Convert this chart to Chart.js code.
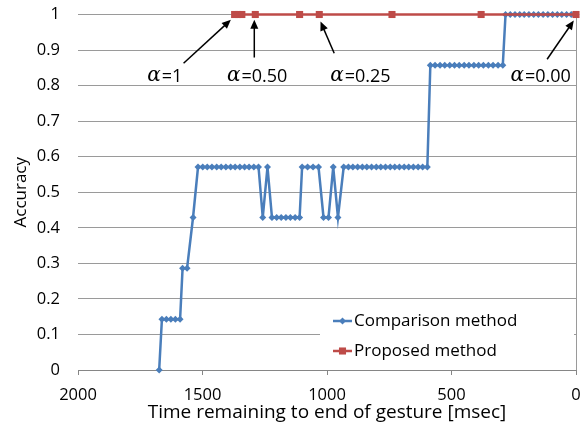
<!DOCTYPE html>
<html>
<head>
<meta charset="utf-8">
<script src="https://cdn.jsdelivr.net/npm/chart.js@4.4.0/dist/chart.umd.min.js"></script>
<style>
  html, body { margin: 0; padding: 0; background: #fff; }
</style>
</head>
<body>
<canvas id="myChart" width="582" height="423"></canvas>
<script>
// time remaining [msec] and accuracy
const compTime = [1674,
  1663, 1645, 1627, 1609, 1590,
  1580, 1562,
  1538,
  1518, 1499, 1481, 1462, 1443, 1425, 1406, 1387, 1369, 1350, 1331, 1313, 1294, 1275,
  1258,
  1239,
  1221, 1202, 1184, 1165, 1147, 1128, 1110,
  1100, 1078, 1056, 1034,
  1014, 994,
  975,
  956,
  933, 914, 896, 877, 858, 840, 821, 802, 784, 765, 746, 728, 709, 690, 672, 653, 634, 616, 597,
  585, 566, 546, 527, 507, 488, 469, 449, 430, 410, 391, 372, 352, 333, 313, 294,
  283, 264, 245, 226, 208, 189, 170, 151, 132, 113, 94, 75, 57, 38, 19, 0];
const compAcc = [0,
  0.143, 0.143, 0.143, 0.143, 0.143,
  0.286, 0.286,
  0.429,
  0.571, 0.571, 0.571, 0.571, 0.571, 0.571, 0.571, 0.571, 0.571, 0.571, 0.571, 0.571, 0.571, 0.571,
  0.429,
  0.571,
  0.429, 0.429, 0.429, 0.429, 0.429, 0.429, 0.429,
  0.571, 0.571, 0.571, 0.571,
  0.429, 0.429,
  0.571,
  0.429,
  0.571, 0.571, 0.571, 0.571, 0.571, 0.571, 0.571, 0.571, 0.571, 0.571, 0.571, 0.571, 0.571, 0.571, 0.571, 0.571, 0.571, 0.571, 0.571,
  0.857, 0.857, 0.857, 0.857, 0.857, 0.857, 0.857, 0.857, 0.857, 0.857, 0.857, 0.857, 0.857, 0.857, 0.857, 0.857,
  1, 1, 1, 1, 1, 1, 1, 1, 1, 1, 1, 1, 1, 1, 1, 1];
const propTime = [1371, 1357, 1342, 1288, 1110, 1031, 739, 381, 0];
const propAcc = [1, 1, 1, 1, 1, 1, 1, 1, 1];

const seriesNames = ['Comparison method', 'Proposed method'];
const alphaText = ['1', '0.50', '0.25', '0.00'];

// arrows: tip / tail / label anchor in data units (ms, accuracy)
const notes = [
  { tip: [1386, 0.985], tail: [1576, 0.863], at: [1722, 0.824] },
  { tip: [1292, 0.985], tail: [1292, 0.879], at: [1402, 0.824] },
  { tip: [1026, 0.980], tail: [971, 0.891], at: [987, 0.824] },
  { tip: [9, 0.983], tail: [116, 0.874], at: [263, 0.824] }
];

const BLUE = '#4a7ebb';
const RED = '#be4b48';
const GRID = '#9a9a9a';
const FONT = '"Open Sans", sans-serif';

Chart.defaults.font.family = FONT;
Chart.defaults.color = '#000';

const arrowPlugin = {
  id: 'arrows',
  afterDatasetsDraw(chart) {
    const { ctx, scales: { x, y } } = chart;
    ctx.save();
    notes.forEach((n, i) => {
      const x1 = x.getPixelForValue(n.tail[0]), y1 = y.getPixelForValue(n.tail[1]);
      const x2 = x.getPixelForValue(n.tip[0]), y2 = y.getPixelForValue(n.tip[1]);
      const ang = Math.atan2(y2 - y1, x2 - x1);
      ctx.strokeStyle = '#000';
      ctx.fillStyle = '#000';
      ctx.lineWidth = 1.5;
      ctx.beginPath();
      ctx.moveTo(x1, y1);
      ctx.lineTo(x2 - 6 * Math.cos(ang), y2 - 6 * Math.sin(ang));
      ctx.stroke();
      ctx.beginPath();
      ctx.moveTo(x2, y2);
      ctx.lineTo(x2 - 9 * Math.cos(ang) + 4 * Math.sin(ang), y2 - 9 * Math.sin(ang) - 4 * Math.cos(ang));
      ctx.lineTo(x2 - 9 * Math.cos(ang) - 4 * Math.sin(ang), y2 - 9 * Math.sin(ang) + 4 * Math.cos(ang));
      ctx.closePath();
      ctx.fill();

      // label
      let lx = x.getPixelForValue(n.at[0]);
      const ly = y.getPixelForValue(n.at[1]);
      ctx.textBaseline = 'middle';
      ctx.textAlign = 'left';
      ctx.font = 'italic 20px "DejaVu Serif"';
      ctx.fillText('α', lx, ly - 1);
      lx += ctx.measureText('α').width + 1;
      ctx.font = '18px ' + FONT;
      ctx.fillText('=' + alphaText[i], lx, ly);
    });
    ctx.restore();
  }
};

const legendPlugin = {
  id: 'boxLegend',
  afterDraw(chart) {
    const { ctx, chartArea } = chart;
    const left = chartArea.left + 242, right = chartArea.right - 2;
    const top = chartArea.bottom - 64, bottom = chartArea.bottom - 3;
    ctx.save();
    ctx.fillStyle = '#fff';
    ctx.fillRect(left, top, right - left, bottom - top);
    const rows = [
      { name: seriesNames[0], color: BLUE, style: 'rectRot', r: 3.5, y: top + 15 },
      { name: seriesNames[1], color: RED, style: 'rect', r: 5, y: top + 45 }
    ];
    rows.forEach(row => {
      const sx = left + 13;
      ctx.strokeStyle = row.color;
      ctx.lineWidth = 2.5;
      ctx.beginPath();
      ctx.moveTo(sx, row.y);
      ctx.lineTo(sx + 19, row.y);
      ctx.stroke();
      ctx.fillStyle = row.color;
      Chart.helpers.drawPoint(ctx, { pointStyle: row.style, radius: row.r, borderWidth: 0 }, sx + 9.5, row.y);
      ctx.fillStyle = '#000';
      ctx.font = '17px ' + FONT;
      ctx.textBaseline = 'middle';
      ctx.textAlign = 'left';
      ctx.fillText(row.name, sx + 21, row.y);
    });
    ctx.restore();
  }
};

new Chart(document.getElementById('myChart'), {
  type: 'scatter',
  data: {
    datasets: [{
      label: seriesNames[1],
      data: propTime.map((t, i) => ({ x: t, y: propAcc[i] })),
      showLine: true,
      borderColor: RED,
      backgroundColor: RED,
      borderWidth: 2.5,
      pointStyle: 'rect',
      pointRadius: 5,
      pointBorderWidth: 0,
      order: 0
    }, {
      label: seriesNames[0],
      data: compTime.map((t, i) => ({ x: t, y: compAcc[i] })),
      showLine: true,
      borderColor: BLUE,
      backgroundColor: BLUE,
      borderWidth: 2.5,
      pointStyle: 'rectRot',
      pointRadius: 3.5,
      pointBorderWidth: 0,
      order: 1
    }]
  },
  options: {
    responsive: false,
    animation: false,
    clip: false,
    layout: { padding: { top: 14.5, right: 6, left: 0, bottom: 0 } },
    plugins: {
      legend: { display: false },
      tooltip: { enabled: false }
    },
    scales: {
      x: {
        type: 'linear',
        reverse: true,
        min: 0,
        max: 2000,
        ticks: { stepSize: 500, padding: 10, font: { size: 16.5 }, maxRotation: 0, callback: v => String(v) },
        grid: {
          color: c => (c.tick && c.tick.value === 0 ? GRID : 'rgba(0,0,0,0)'),
          drawTicks: true,
          tickLength: 5,
          tickColor: '#868686'
        },
        border: { display: true, color: '#868686', width: 1 },
        title: {
          display: true,
          text: 'Time remaining to end of gesture [msec]',
          font: { size: 19 },
          padding: { top: 0, bottom: -1 }
        },
        afterFit: s => { s.height = 53; s.paddingLeft = 0; s.paddingRight = 0; }
      },
      y: {
        min: 0,
        max: 1,
        ticks: { stepSize: 0.1, padding: 18, font: { size: 16.5 }, callback: v => +v.toFixed(1) },
        grid: { color: GRID, lineWidth: 1, drawTicks: false },
        border: { display: false },
        title: {
          display: true,
          text: 'Accuracy',
          font: { size: 17 },
          padding: { top: 11, bottom: 0 }
        },
        afterFit: s => { s.width = 78; s.paddingTop = 0; s.paddingBottom = 0; }
      }
    }
  },
  plugins: [arrowPlugin, legendPlugin]
});
</script>
</body>
</html>
